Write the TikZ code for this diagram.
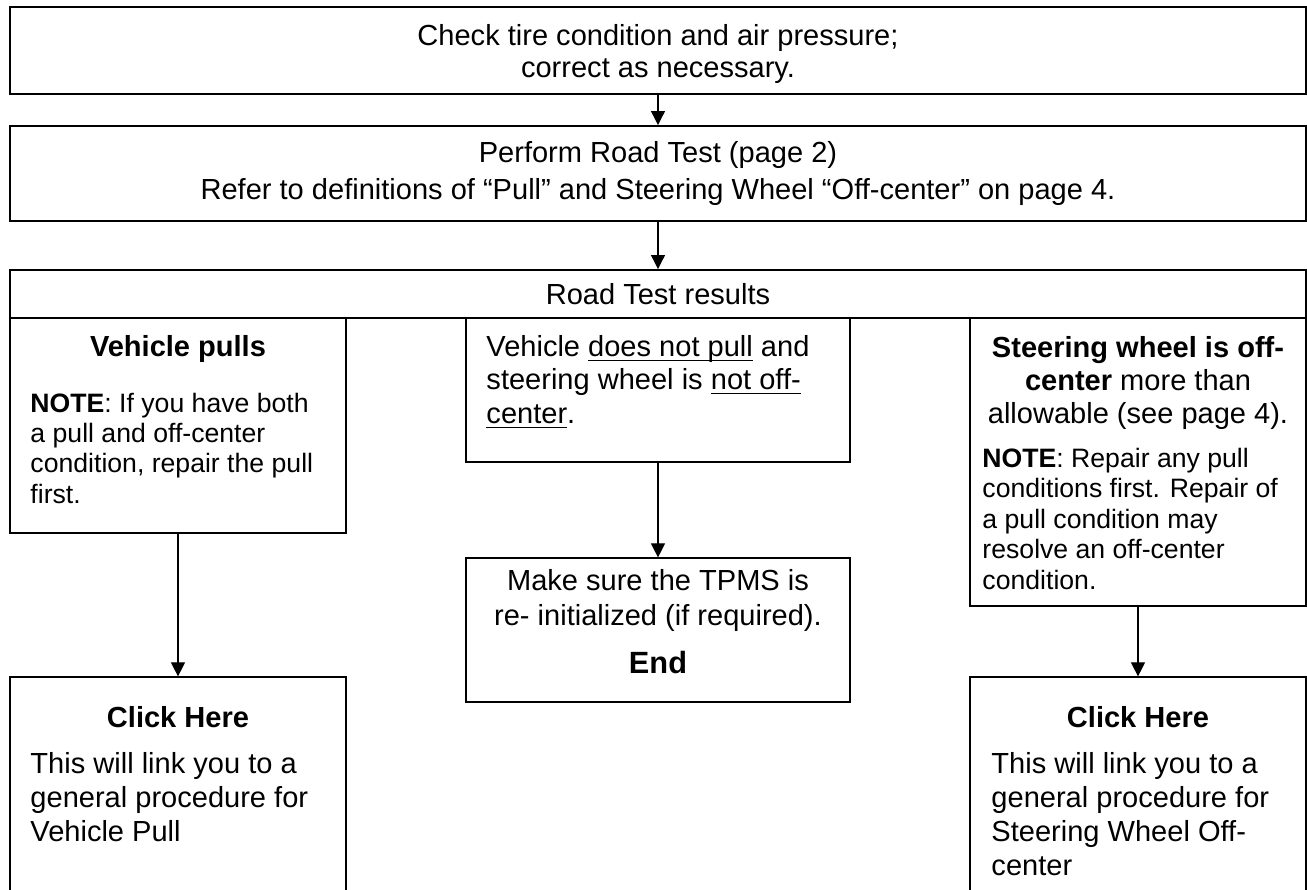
\documentclass[tikz,border=0pt]{standalone}
\usepackage{fontspec}
\setmainfont{Liberation Sans}
\usetikzlibrary{fit,arrows.meta}

\newsavebox{\ulinebox}
\newcommand{\ulin}[1]{\sbox{\ulinebox}{#1}\rlap{\rule[-2.2pt]{\wd\ulinebox}{0.55pt}}\usebox{\ulinebox}}

\tikzset{
  box/.style={draw, line width=0.5pt, inner sep=0pt},
  thickbox/.style={box, line width=0.8pt},
  ctxt/.style={inner sep=0pt, anchor=base},
  ltxt/.style={inner sep=0pt, anchor=base west},
  note/.style={ltxt, font=\fontsize{11}{12.6}\selectfont},
  flow/.style={-{Triangle[length=5.8pt,width=5.8pt]}, line width=0.5pt},
}

\begin{document}
\begin{tikzpicture}[x=0.4132pt, y=-0.4132pt, font=\fontsize{12}{13.8}\selectfont]
  \clip (0,0) rectangle (1307,890);
  % boxes
  \node[thickbox, fit={(10,7) (1306,94)}] (check) {};
  \node[thickbox, fit={(10,126) (1306,221)}] (roadtest) {};
  \node[thickbox, fit={(10,270) (1306,318)}] (results) {};
  \node[box, fit={(10,318) (346,533)}] (pulls) {};
  \node[box, fit={(466,318) (850,462)}] (nopull) {};
  \node[box, fit={(970,318) (1306,606)}] (offcenter) {};
  \node[box, fit={(466,558) (850,702)}] (tpms) {};
  \node[box, fit={(10,677) (346,900)}] (linkpull) {};
  \node[box, fit={(970,677) (1306,900)}] (linkoff) {};

  % texts
  \node[ctxt] (check-a) at (658,45) {Check tire condition and air pressure;};
  \node[ctxt] (check-b) at (658,77) {correct as necessary.};
  \node[ctxt] (road-a) at (658,162) {Perform Road Test (page 2)};
  \node[ctxt] (road-b) at (658,199) {Refer to definitions of “Pull” and Steering Wheel “Off-center” on page 4.};
  \node[ctxt] (results-a) at (658,304) {Road Test results};

  \node[ctxt] (pulls-t) at (178,356) {\textbf{Vehicle pulls}};
  \foreach \y/\t [count=\i] in {412/{\textbf{NOTE}: If you have both},
      442/{a pull and off-center},
      472/{condition, repair the pull},
      503/{first.}}
    \node[note] (pulls-\i) at (30,\y) {\t};

  \foreach \y/\t [count=\i] in {356/{Vehicle \ulin{does not pull} and},
      389/{steering wheel is \ulin{not off-}},
      423/{\ulin{center}.}}
    \node[ltxt] (nopull-\i) at (486,\y) {\t};

  \foreach \y/\t [count=\i] in {357/{\textbf{Steering wheel is off-}},
      390/{\textbf{center} more than},
      423/{allowable (see page 4).}}
    \node[ctxt] (offc-t\i) at (1138,\y) {\t};
  \foreach \y/\t [count=\i] in {467/{\textbf{NOTE}: Repair any pull},
      497/{conditions first. Repair of},
      528/{a pull condition may},
      558/{resolve an off-center},
      589/{condition.}}
    \node[note] (offc-\i) at (982,\y) {\t};

  \node[ctxt] (tpms-a) at (658,590) {Make sure the TPMS is};
  \node[ctxt] (tpms-b) at (658,625) {re- initialized (if required).};
  \node[ctxt, font=\fontsize{12.7}{14}\selectfont\bfseries] (tpms-end) at (658,673) {End};

  \node[ctxt] (lpull-t) at (178,727) {\textbf{Click Here}};
  \foreach \y/\t [count=\i] in {773/{This will link you to a},
      807/{general procedure for},
      841/{Vehicle Pull}}
    \node[ltxt] (lpull-\i) at (30,\y) {\t};

  \node[ctxt] (loff-t) at (1138,727) {\textbf{Click Here}};
  \foreach \y/\t [count=\i] in {773/{This will link you to a},
      807/{general procedure for},
      841/{Steering Wheel Off-},
      875/{center}}
    \node[ltxt] (loff-\i) at (991,\y) {\t};

  % connectors
  \draw[flow] (check) -- (roadtest);
  \draw[flow] (roadtest) -- (results);
  \draw[flow] (pulls) -- (linkpull);
  \draw[flow] (nopull) -- (tpms);
  \draw[flow] (offcenter) -- (linkoff);
\end{tikzpicture}
\end{document}
